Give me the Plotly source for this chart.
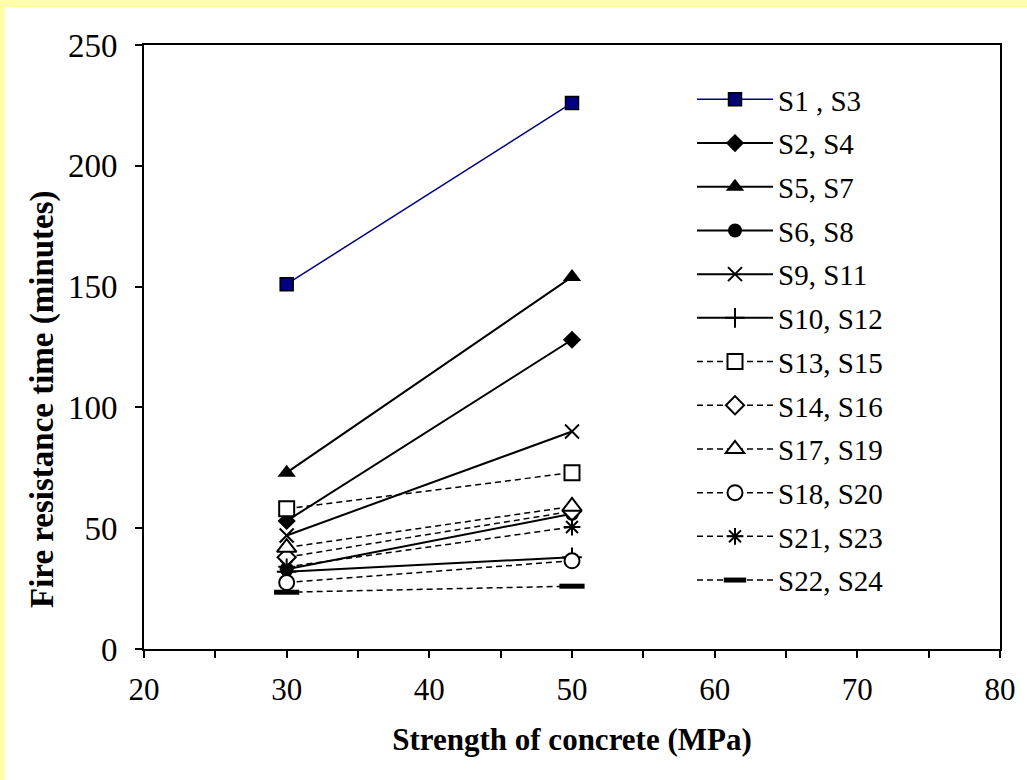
import plotly.graph_objects as go

x_strength = [30, 50]

names = ["S1 , S3", "S2, S4", "S5, S7", "S6, S8", "S9, S11", "S10, S12",
         "S13, S15", "S14, S16", "S17, S19", "S18, S20", "S21, S23", "S22, S24"]

s1_s3 = [151, 226]
s2_s4 = [53, 128]
s5_s7 = [73, 154]
s6_s8 = [33, 56]
s9_s11 = [47, 90]
s10_s12 = [32, 38]
s13_s15 = [58, 73]
s14_s16 = [38, 57]
s17_s19 = [42, 59]
s18_s20 = [27.5, 36.5]
s21_s23 = [34, 50.5]
s22_s24 = [23.5, 26]

series = [s1_s3, s2_s4, s5_s7, s6_s8, s9_s11, s10_s12,
          s13_s15, s14_s16, s17_s19, s18_s20, s21_s23, s22_s24]

x_title = "Strength of concrete (MPa)"
y_title = "Fire resistance time (minutes)"

DASH = "6px,4px"
styles = [
    dict(line=dict(color="#000080", width=1.5), marker=dict(symbol="square", size=13, color="#000080", line=dict(color="black", width=1.5))),
    dict(line=dict(color="black", width=2), marker=dict(symbol="diamond", size=14, color="black")),
    dict(line=dict(color="black", width=2), marker=dict(symbol="triangle-up", size=16, color="black")),
    dict(line=dict(color="black", width=2), marker=dict(symbol="circle", size=14, color="black")),
    dict(line=dict(color="black", width=2), marker=dict(symbol="x-thin-open", size=14, color="black", line=dict(color="black", width=2))),
    dict(line=dict(color="black", width=2), marker=dict(symbol="cross-thin-open", size=14, color="black", line=dict(color="black", width=2))),
    dict(line=dict(color="black", width=1.5, dash=DASH), marker=dict(symbol="square", size=15, color="white", line=dict(color="black", width=2))),
    dict(line=dict(color="black", width=1.5, dash=DASH), marker=dict(symbol="diamond", size=14, color="white", line=dict(color="black", width=2))),
    dict(line=dict(color="black", width=1.5, dash=DASH), marker=dict(symbol="triangle-up", size=17, color="white", line=dict(color="black", width=2))),
    dict(line=dict(color="black", width=1.5, dash=DASH), marker=dict(symbol="circle", size=15, color="white", line=dict(color="black", width=2))),
    dict(line=dict(color="black", width=1.5, dash=DASH), marker=dict(symbol="asterisk-open", size=14, color="black", line=dict(color="black", width=2))),
    dict(line=dict(color="black", width=1.5, dash=DASH), marker=dict(symbol="line-ew-open", size=18, color="black", line=dict(color="black", width=5))),
]

fig = go.Figure()
for name, ys, st in zip(names, series, styles):
    fig.add_trace(go.Scatter(x=x_strength, y=ys, mode="lines+markers", name=name,
                             legendgroup=name, line=st["line"], marker=st["marker"]))

serif = "Liberation Serif, Times New Roman, serif"

PL, PR, PT, PB = 144, 1000, 45, 649
W, H = 1027, 780
pw, ph = PR - PL, PB - PT

def px_x(p):
    return (p - PL) / pw

def px_y(p):
    return (PB - p) / ph

fig.update_layout(
    width=W, height=H,
    margin=dict(l=PL, r=W - PR, t=PT, b=H - PB),
    paper_bgcolor="white",
    plot_bgcolor="white",
    font=dict(family=serif, color="black", size=31),
    showlegend=True,
    legend=dict(x=px_x(692), y=px_y(74), xanchor="left", yanchor="top",
                bgcolor="rgba(0,0,0,0)", font=dict(family=serif, size=29),
                tracegroupgap=3, itemwidth=76, traceorder="grouped"),
    shapes=[
        dict(type="rect", xref="paper", yref="paper", x0=px_x(0), x1=px_x(5), y0=px_y(H), y1=px_y(0),
             fillcolor="#FFFFAA", line=dict(width=0), layer="below"),
        dict(type="rect", xref="paper", yref="paper", x0=px_x(0), x1=px_x(W), y0=px_y(7), y1=px_y(0),
             fillcolor="#FFFFAA", line=dict(width=0), layer="below"),
    ],
    annotations=[
        dict(text=y_title, textangle=-90, xref="paper", yref="paper",
             x=px_x(42), y=px_y(399), xanchor="center", yanchor="middle", showarrow=False,
             font=dict(family=serif, size=33, weight="bold", color="black")),
    ],
)

fig.update_xaxes(range=[20, 80], dtick=10, tick0=20, showgrid=False, zeroline=False,
                 showline=True, linecolor="black", linewidth=2, mirror=True,
                 ticks="outside", ticklen=7, tickwidth=2, tickcolor="black",
                 minor=dict(dtick=5, ticks="outside", ticklen=7, tickwidth=2, tickcolor="black", showgrid=False),
                 tickfont=dict(family=serif, size=31), ticklabelstandoff=5,
                 title=dict(text=x_title, font=dict(family=serif, size=31, weight="bold"), standoff=22))
fig.update_yaxes(range=[0, 250], dtick=50, showgrid=False, zeroline=False,
                 showline=True, linecolor="black", linewidth=2, mirror=True,
                 ticks="outside", ticklen=7, tickwidth=2, tickcolor="black",
                 tickfont=dict(family=serif, size=33), ticklabelstandoff=11)

fig.write_html("out.html")
